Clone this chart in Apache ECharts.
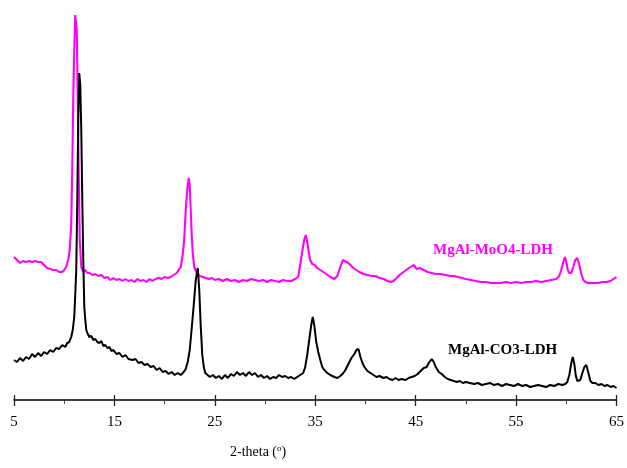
<!DOCTYPE html>
<html>
<head>
<meta charset="utf-8">
<script src="https://cdn.jsdelivr.net/npm/echarts@6/dist/echarts.min.js"></script>
<style>
html,body{margin:0;padding:0;background:#fff;}
#chart{width:627px;height:468px;}
</style>
</head>
<body>
<div id="chart"></div>
<script>
// 2-theta (deg) and intensity (arbitrary units)
const co3Theta = [5.0,5.3,5.6,5.9,6.2,6.5,6.8,7.1,7.4,7.7,8.0,8.3,8.6,8.9,9.2,9.5,9.8,10.1,10.3,10.5,10.7,10.85,11.0,11.1,11.2,11.3,11.4,11.5,11.6,11.7,11.8,11.9,12.0,12.1,12.2,12.35,12.5,12.7,12.9,13.1,13.3,13.5,13.7,13.9,14.1,14.3,14.5,14.7,14.9,15.2,15.5,15.8,16.1,16.4,16.8,17.1,17.4,17.7,18.0,18.3,18.6,18.9,19.2,19.5,19.8,20.1,20.4,20.7,21.0,21.3,21.6,21.9,22.1,22.3,22.5,22.7,22.9,23.1,23.3,23.45,23.6,23.75,23.9,24.05,24.2,24.5,24.8,25.1,25.4,25.7,26.0,26.3,26.6,26.9,27.2,27.5,27.8,28.1,28.4,28.7,29.0,29.3,29.6,29.9,30.2,30.5,30.8,31.1,31.4,31.7,32.0,32.3,32.6,32.9,33.2,33.5,33.8,34.0,34.2,34.4,34.6,34.75,34.9,35.1,35.3,35.5,35.7,35.9,36.2,36.5,36.9,37.2,37.5,37.8,38.0,38.3,38.6,38.9,39.1,39.3,39.5,39.7,39.9,40.2,40.5,40.8,41.1,41.4,41.8,42.1,42.4,42.7,43.0,43.3,43.6,44.0,44.3,44.6,44.9,45.2,45.5,45.8,46.1,46.3,46.6,46.8,47.0,47.3,47.6,47.9,48.2,48.5,48.8,49.1,49.4,49.7,50.0,50.4,50.8,51.2,51.6,52.0,52.4,52.8,53.2,53.6,54.0,54.4,54.8,55.2,55.6,56.0,56.4,56.8,57.2,57.6,58.0,58.4,58.8,59.2,59.6,59.9,60.1,60.3,60.5,60.65,60.8,60.95,61.1,61.25,61.4,61.6,61.8,62.0,62.2,62.4,62.6,62.9,63.2,63.5,63.8,64.1,64.4,64.7,65.0];
const co3Intensity = [40,38,42,39,43,41,46,43,47,44,48,46,50,48,52,51,55,53,57,58,63,70,83,105,130,200,280,327,315,270,200,140,93,80,70,66,63,64,60,61,58,57,59,54,55,52,53,49,50,46,47,43,45,41,40,41,37,38,35,36,33,34,30,32,28,29,26,28,25,27,25,28,31,38,50,72,95,120,132,110,73,45,33,27,26,23,25,22,24,21,25,22,26,24,28,25,27,24,28,25,27,23,25,22,24,21,23,22,25,23,24,22,23,21,23,25,27,33,45,60,75,83,75,58,48,40,33,30,27,25,23,22,24,27,30,36,42,46,50,51,43,37,33,29,27,25,23,24,22,23,21,20,22,20,21,20,22,23,24,26,29,32,33,37,41,38,33,28,26,23,21,20,19,18,19,17,18,17,16,17,15,16,17,15,16,14,16,15,14,16,14,15,13,14,15,14,13,15,14,16,15,16,18,25,37,43,36,24,19,18,20,27,33,35,27,19,17,17,15,16,14,15,13,14,12];

const moo4Theta = [5.0,5.3,5.6,5.9,6.2,6.5,6.8,7.1,7.4,7.7,7.9,8.1,8.3,8.6,8.9,9.2,9.5,9.8,10.0,10.2,10.4,10.55,10.7,10.8,10.9,11.0,11.1,11.15,11.25,11.35,11.45,11.55,11.7,11.9,12.1,12.3,12.5,12.8,13.1,13.4,13.7,14.0,14.3,14.6,14.9,15.2,15.5,15.8,16.1,16.4,16.7,17.0,17.3,17.6,17.9,18.2,18.5,18.8,19.1,19.4,19.7,20.0,20.3,20.6,20.9,21.2,21.4,21.6,21.8,21.95,22.1,22.25,22.4,22.5,22.6,22.7,22.8,22.95,23.2,23.5,23.8,24.1,24.4,24.7,25.0,25.4,25.8,26.2,26.6,27.0,27.4,27.8,28.2,28.6,29.0,29.4,29.8,30.2,30.6,31.0,31.4,31.8,32.2,32.6,33.0,33.3,33.5,33.7,33.9,34.05,34.2,34.35,34.5,34.7,34.95,35.2,35.5,35.8,36.1,36.5,36.9,37.2,37.5,37.75,37.92,38.1,38.3,38.5,38.8,39.1,39.4,39.8,40.2,40.6,41.0,41.4,41.8,42.2,42.5,42.8,43.1,43.4,43.8,44.2,44.5,44.8,45.1,45.4,45.8,46.2,46.6,47.0,47.5,48.0,48.4,48.8,49.2,49.6,50.0,50.5,51.0,51.5,52.0,52.5,53.0,53.5,54.0,54.5,55.0,55.5,56.0,56.5,57.0,57.5,58.0,58.5,59.0,59.3,59.5,59.7,59.86,60.0,60.15,60.3,60.5,60.7,60.9,61.1,61.3,61.5,61.7,61.9,62.2,62.5,62.9,63.2,63.6,64.0,64.4,64.7,65.0];
const moo4Intensity = [143,140,137,139,138,139,138,139,138,138,136,134,132,131,130,130,128,128,130,133,140,150,175,230,300,350,385,387,370,300,220,160,133,128,130,127,127,125,126,124,125,122,123,120,122,120,121,119,121,119,120,118,121,119,120,118,121,119,121,122,121,123,122,123,125,127,130,133,145,160,190,210,222,215,190,165,147,133,127,124,123,122,121,122,120,121,119,121,119,120,118,120,119,121,120,119,120,118,120,119,118,120,119,119,121,123,135,148,160,165,158,148,140,136,135,132,130,128,126,123,121,124,133,140,142,138,137,135,132,130,128,126,125,124,124,122,121,119,118,119,122,125,128,131,133,135,131,132,130,128,127,126,126,125,124,124,123,122,121,120,119,118,118,117,117,117,118,117,118,117,118,118,119,118,119,120,121,124,130,138,143,138,130,127,127,133,140,142,135,126,120,118,117,117,117,117,118,118,119,121,123];

const xTicks = [5, 15, 25, 35, 45, 55, 65];
const seriesNames = ['MgAl-MoO4-LDH', 'MgAl-CO3-LDH'];
const axisTitle = '2-theta (';

function pairs(xs, ys) { return xs.map((x, i) => [x, ys[i]]); }

const chart = echarts.init(document.getElementById('chart'), null, {renderer: 'canvas'});
const serif = '"Liberation Serif", "Times New Roman", serif';
chart.setOption({
  animation: false,
  backgroundColor: '#ffffff',
  grid: {left: 14, right: 6, top: 0, bottom: 68},
  xAxis: [{
    type: 'value', min: xTicks[0], max: xTicks[xTicks.length - 1], interval: 10,
    axisLine: {show: true, lineStyle: {color: '#000', width: 1.5}},
    axisTick: {show: true, length: 6, lineStyle: {color: '#222', width: 1.3}},
    minorTick: {show: true, splitNumber: 2, length: 4, lineStyle: {color: '#444', width: 1}},
    splitLine: {show: false},
    axisLabel: {margin: 15, fontFamily: serif, fontSize: 15, color: '#000'}
  }, {
    type: 'value', min: xTicks[0], max: xTicks[xTicks.length - 1], interval: 10,
    position: 'bottom',
    axisLine: {show: false},
    axisTick: {show: true, inside: true, length: 5, lineStyle: {color: '#222', width: 1.3}},
    axisLabel: {show: false},
    splitLine: {show: false}
  }],
  yAxis: {type: 'value', min: 0, max: 400, show: false, splitLine: {show: false}},
  series: [{
    name: seriesNames[0], type: 'line', showSymbol: false, symbol: 'none',
    lineStyle: {color: '#ff00ff', width: 2.1}, data: pairs(moo4Theta, moo4Intensity)
  }, {
    name: seriesNames[1], type: 'line', showSymbol: false, symbol: 'none',
    lineStyle: {color: '#000000', width: 2}, data: pairs(co3Theta, co3Intensity)
  }],
  graphic: [{
    type: 'text', left: 433, top: 243,
    style: {text: seriesNames[0], fill: '#ff00ff', font: 'bold 15px ' + serif}
  }, {
    type: 'text', left: 448, top: 343,
    style: {text: seriesNames[1], fill: '#000', font: 'bold 15px ' + serif}
  }, {
    type: 'text', left: 230, top: 444,
    style: {
      text: axisTitle + '{s|o})', fill: '#000', font: '14px ' + serif,
      rich: {s: {fontSize: 9, fontFamily: serif, fill: '#000', padding: [0, 0, 7, 0]}}
    }
  }]
});
</script>
</body>
</html>
